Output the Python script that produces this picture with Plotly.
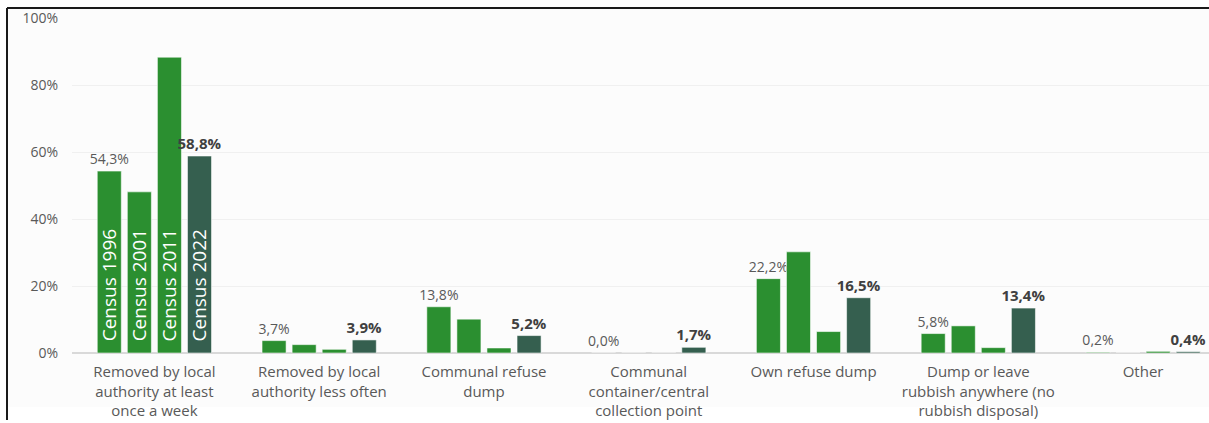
import plotly.graph_objects as go

categories = [
    "Removed by local<br>authority at least<br>once a week",
    "Removed by local<br>authority less often",
    "Communal refuse<br>dump",
    "Communal<br>container/central<br>collection point",
    "Own refuse dump",
    "Dump or leave<br>rubbish anywhere (no<br>rubbish disposal)",
    "Other",
]
series_names = ["Census 1996", "Census 2001", "Census 2011", "Census 2022"]
census_1996 = [54.3, 3.7, 13.8, 0.0, 22.2, 5.8, 0.2]
census_2001 = [48.1, 2.5, 10.1, 0.0, 30.2, 8.1, 0.0]
census_2011 = [88.3, 1.1, 1.5, 0.0, 6.4, 1.6, 0.5]
census_2022 = [58.8, 3.9, 5.2, 1.7, 16.5, 13.4, 0.4]
y_ticks = [0, 20, 40, 60, 80, 100]
y_tick_labels = ["0%", "20%", "40%", "60%", "80%", "100%"]

GREEN = "#2b8f30"
DARK = "#355f4f"
FONT = "Open Sans"

W, H = 1209, 423
ML, MR, MT, MB = 72, 0, 18, 70
X_RANGE = [-0.5, 6.4]
BARGAP, BARGROUPGAP = 0.27, 0.2

def fmt(v):
    return f"{v:.1f}%".replace(".", ",")

fig = go.Figure()
series = [census_1996, census_2001, census_2011, census_2022]
colors = [GREEN, GREEN, GREEN, DARK]
for i, (name, vals, col) in enumerate(zip(series_names, series, colors)):
    kw = {}
    if i == 0:
        kw = dict(text=[fmt(v) for v in vals], textposition="outside",
                  textfont=dict(family=FONT, size=14, color="#595959"))
    elif i == 3:
        kw = dict(text=[f"<b>{fmt(v)}</b>" for v in vals], textposition="outside",
                  textfont=dict(family=FONT, size=15, color="#404040"))
    fig.add_trace(go.Bar(
        x=categories, y=vals, name=name,
        marker=dict(color=col, line=dict(color="rgba(255,255,255,0.55)", width=1)),
        cliponaxis=False, constraintext="none", hoverinfo="skip", **kw))

# Census labels inside the first group's bars
plot_w = W - ML - MR
unit_px = plot_w / (X_RANGE[1] - X_RANGE[0])
pitch = unit_px * (1 - BARGAP) / 4
for i, name in enumerate(series_names):
    fig.add_annotation(x=categories[0], y=0, xref="x", yref="y",
                       text=name, textangle=-90, showarrow=False,
                       xanchor="center", yanchor="bottom",
                       xshift=(i - 1.5) * pitch, yshift=10,
                       font=dict(family=FONT, size=19, color="white"))

plot_h = H - MT - MB
# frame lines (top and left) and light background
fx = (7 - ML) / plot_w
fy = 1 + (MT - 8) / plot_h
fb = 1 - (407 - MT) / plot_h
fig.add_shape(type="rect", xref="paper", yref="paper", x0=fx, x1=1.0, y0=fb, y1=fy,
              fillcolor="#fcfcfc", line=dict(width=0), layer="below")
fig.add_shape(type="line", xref="paper", yref="paper", x0=fx, x1=1.02, y0=fy, y1=fy,
              line=dict(color="#1a1a1a", width=2))
fig.add_shape(type="line", xref="paper", yref="paper", x0=fx, x1=fx, y0=fy, y1=-0.2,
              line=dict(color="#1a1a1a", width=2))

fig.update_layout(
    width=W, height=H,
    margin=dict(l=ML, r=MR, t=MT, b=MB),
    barmode="group", bargap=BARGAP, bargroupgap=BARGROUPGAP,
    paper_bgcolor="white", plot_bgcolor="rgba(0,0,0,0)",
    showlegend=False,
    font=dict(family=FONT, color="#595959"),
    xaxis=dict(range=X_RANGE, showgrid=False, showline=False, zeroline=False,
               tickfont=dict(family=FONT, size=15, color="#595959"), ticks="",
               ticklabelstandoff=8),
    yaxis=dict(range=[0, 100], tickvals=y_ticks, ticktext=y_tick_labels,
               showgrid=True, gridcolor="#f0f0f0", gridwidth=1,
               zeroline=True, zerolinecolor="#d9d9d9", zerolinewidth=2,
               showline=False, ticks="", ticklabelstandoff=13,
               tickfont=dict(family=FONT, size=14, color="#595959")),
)

fig.write_html("out.html")
